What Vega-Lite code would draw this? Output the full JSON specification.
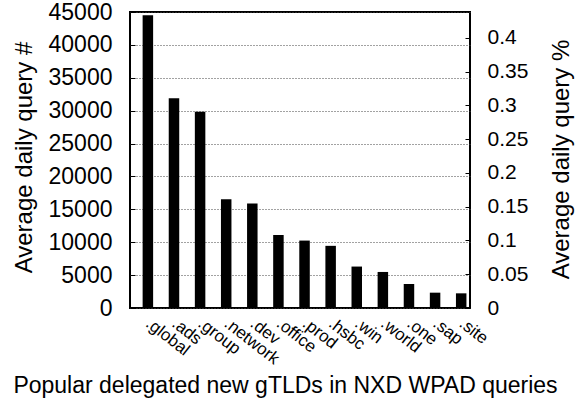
{
  "$schema": "https://vega.github.io/schema/vega-lite/v6.json",
  "width": 340,
  "height": 296,
  "autosize": "none",
  "padding": {"left": 130, "top": 12, "right": 117, "bottom": 94},
  "background": "white",
  "config": {
    "font": "Liberation Sans",
    "view": {"stroke": "black", "strokeWidth": 2},
    "axis": {
      "labelColor": "black",
      "titleColor": "black",
      "tickColor": "black",
      "titleFontWeight": "normal",
      "domain": false
    }
  },
  "data": {
    "values": [
      {"tld": ".global", "count": 44500, "pct": 0.4336},
      {"tld": ".ads", "count": 31900, "pct": 0.3108},
      {"tld": ".group", "count": 29850, "pct": 0.2909},
      {"tld": ".network", "count": 16550, "pct": 0.1613},
      {"tld": ".dev", "count": 15900, "pct": 0.1549},
      {"tld": ".office", "count": 11100, "pct": 0.1082},
      {"tld": ".prod", "count": 10250, "pct": 0.0999},
      {"tld": ".hsbc", "count": 9450, "pct": 0.0921},
      {"tld": ".win", "count": 6300, "pct": 0.0614},
      {"tld": ".world", "count": 5480, "pct": 0.0534},
      {"tld": ".one", "count": 3650, "pct": 0.0356},
      {"tld": ".sap", "count": 2330, "pct": 0.0227},
      {"tld": ".site", "count": 2230, "pct": 0.0217}
    ]
  },
  "encoding": {
    "x": {
      "field": "tld",
      "type": "nominal",
      "sort": null,
      "scale": {"paddingInner": 0.598, "paddingOuter": 0.31, "align": 0.78},
      "axis": {
        "title": "Popular delegated new gTLDs in NXD WPAD queries",
        "titleFontSize": 23,
        "titleX": 155,
        "titleY": 84,
        "titleBaseline": "alphabetic",
        "labelAngle": 38,
        "labelAlign": "left",
        "labelBaseline": "alphabetic",
        "labelFontSize": 17,
        "labelPadding": 17,
        "labelOffset": -3,
        "ticks": false,
        "grid": false
      }
    }
  },
  "layer": [
    {
      "mark": {"type": "bar", "color": "black"},
      "encoding": {
        "y": {
          "field": "count",
          "type": "quantitative",
          "scale": {"domain": [0, 45000], "nice": false},
          "axis": {
            "orient": "left",
            "title": "Average daily query #",
            "titleFontSize": 24,
            "titleAngle": 270,
            "titleX": -99,
            "titleY": 145,
            "titleBaseline": "alphabetic",
            "values": [0, 5000, 10000, 15000, 20000, 25000, 30000, 35000, 40000, 45000],
            "format": "d",
            "labelFontSize": 23,
            "labelPadding": 23,
            "tickSize": -5,
            "grid": true,
            "gridColor": "#444444",
            "gridDash": [1, 2],
            "gridWidth": 1
          }
        }
      }
    },
    {
      "mark": {"type": "bar", "opacity": 0},
      "encoding": {
        "y": {
          "field": "pct",
          "type": "quantitative",
          "scale": {"domain": [0, 0.4385], "nice": false},
          "axis": {
            "orient": "right",
            "title": "Average daily query %",
            "titleFontSize": 24,
            "titleAngle": 270,
            "titleX": 98,
            "titleY": 147,
            "titleBaseline": "alphabetic",
            "values": [0, 0.05, 0.1, 0.15, 0.2, 0.25, 0.3, 0.35, 0.4],
            "format": "~g",
            "labelFontSize": 21,
            "labelPadding": 22,
            "tickSize": -5,
            "grid": false
          }
        }
      }
    }
  ],
  "resolve": {"scale": {"y": "independent"}}
}
